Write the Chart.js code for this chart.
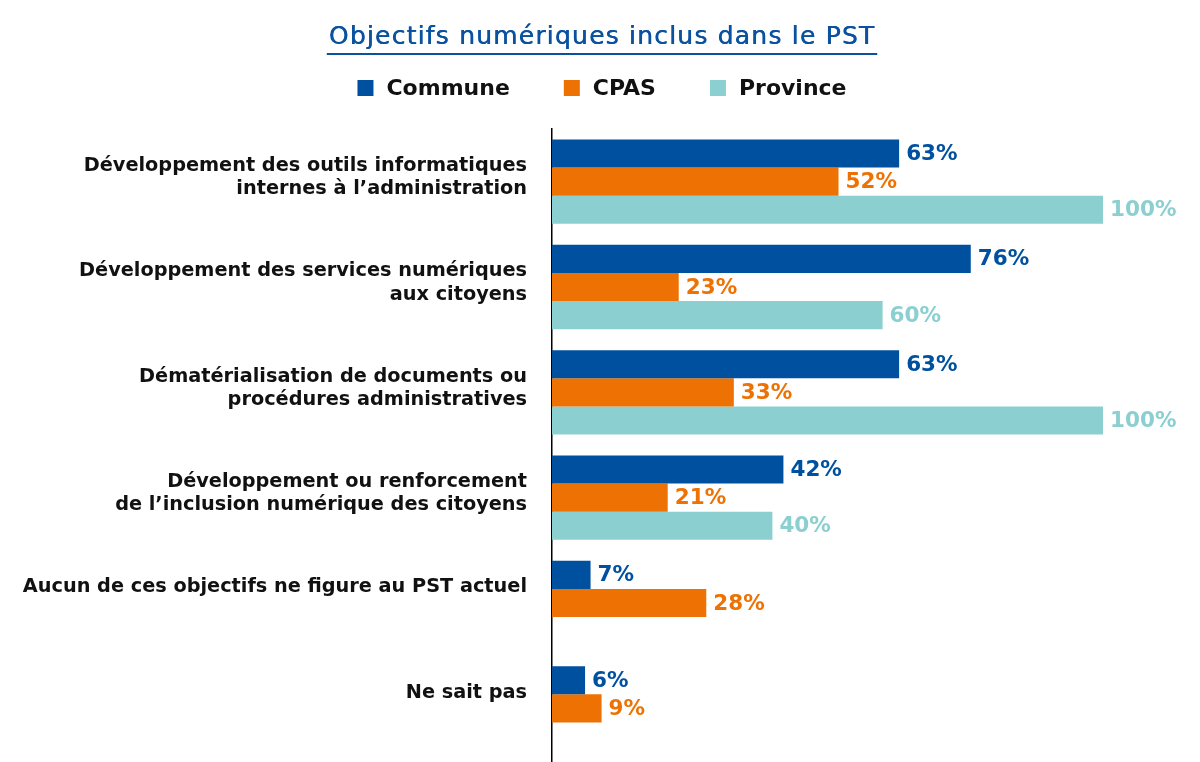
<!DOCTYPE html>
<html>
<head>
<meta charset="utf-8">
<script src="https://cdn.jsdelivr.net/npm/chart.js@4/dist/chart.umd.min.js"></script>
<style>
  body { margin: 0; background: #fff; }
  #chart { display: block; }
</style>
</head>
<body>
<canvas id="chart" width="1200" height="762"></canvas>
<script>
var titre = 'Objectifs numériques inclus dans le PST';

var categories = [
  ['Développement des outils informatiques', 'internes à l\u2019administration'],
  ['Développement des services numériques', 'aux citoyens'],
  ['Dématérialisation de documents ou', 'procédures administratives'],
  ['Développement ou renforcement', 'de l\u2019inclusion numérique des citoyens'],
  ['Aucun de ces objectifs ne figure au PST actuel', ''],
  ['Ne sait pas', '']
];

var commune = [63, 76, 63, 42, 7, 6];
var cpas = [52, 23, 33, 21, 28, 9];
var province = [100, 60, 100, 40, null, null];

var FONT = '"DejaVu Sans", sans-serif';

// titre souligné + légende dessinés à la main
var entetePlugin = {
  id: 'entete',
  afterDraw: function(chart) {
    var ctx = chart.ctx;
    var cx = chart.width / 2 + 2;
    ctx.save();
    ctx.font = '25px ' + FONT;
    ctx.letterSpacing = '1.2px';
    ctx.fillStyle = '#0a52a0';
    ctx.textAlign = 'center';
    ctx.textBaseline = 'alphabetic';
    ctx.fillText(titre, cx, 44);
    ctx.fillText(titre, cx + 0.5, 44);
    var w = ctx.measureText(titre).width;
    ctx.fillRect(cx - w / 2 - 2, 53, w + 4, 2);
    ctx.letterSpacing = '0px';

    // légende
    ctx.font = 'bold 22px ' + FONT;
    var items = chart.data.datasets.map(function(ds) {
      return { label: ds.label, color: ds.backgroundColor, w: ctx.measureText(ds.label).width };
    });
    var total = 0;
    items.forEach(function(it, i) {
      total += 16 + 13 + it.w + (i < items.length - 1 ? 54 : 0);
    });
    var x = cx - total / 2;
    ctx.textAlign = 'left';
    ctx.textBaseline = 'middle';
    items.forEach(function(it) {
      ctx.fillStyle = it.color;
      ctx.fillRect(x, 80, 16, 16);
      ctx.fillStyle = '#111';
      ctx.fillText(it.label, x + 29, 89);
      x += 16 + 13 + it.w + 54;
    });
    ctx.restore();
  }
};

var etiquettesPlugin = {
  id: 'etiquettes',
  afterDatasetsDraw: function(chart) {
    var ctx = chart.ctx;
    ctx.save();
    ctx.font = 'bold 21.5px ' + FONT;
    ctx.textAlign = 'left';
    ctx.textBaseline = 'middle';
    chart.data.datasets.forEach(function(ds, i) {
      var meta = chart.getDatasetMeta(i);
      meta.data.forEach(function(bar, j) {
        var v = ds.data[j];
        if (v === null || v === undefined) return;
        ctx.fillStyle = ds.backgroundColor;
        ctx.fillText(v + '%', bar.x + 7, bar.y + 1);
      });
    });
    ctx.restore();
  }
};

var chartData = {
  labels: categories,
  datasets: [
    { label: 'Commune', backgroundColor: '#0050a0', data: commune },
    { label: 'CPAS', backgroundColor: '#ee7203', data: cpas },
    { label: 'Province', backgroundColor: '#8bcfd0', data: province }
  ]
};

var ctx = document.getElementById('chart');
var graph = new Chart(ctx, {
  type: 'bar',
  data: chartData,
  plugins: [entetePlugin, etiquettesPlugin],
  options: {
    indexAxis: 'y',
    responsive: false,
    animation: false,
    layout: { padding: { top: 129, right: 97, bottom: 1, left: 0 } },
    datasets: { bar: { categoryPercentage: 0.8, barPercentage: 1.0 } },
    plugins: {
      legend: { display: false },
      title: { display: false },
      tooltip: { enabled: false }
    },
    scales: {
      x: { display: false, min: 0, max: 100 },
      y: {
        grid: { display: false },
        border: { display: true, color: '#000', width: 1.5 },
        ticks: {
          color: '#111',
          padding: 17,
          labelOffset: -4,
          font: { family: FONT, size: 19.3, weight: 'bold', lineHeight: 1.2 }
        },
        afterFit: function(scale) {
          scale.width = 552;
          scale.paddingTop = 0;
          scale.paddingBottom = 0;
        }
      }
    }
  }
});
</script>
</body>
</html>
